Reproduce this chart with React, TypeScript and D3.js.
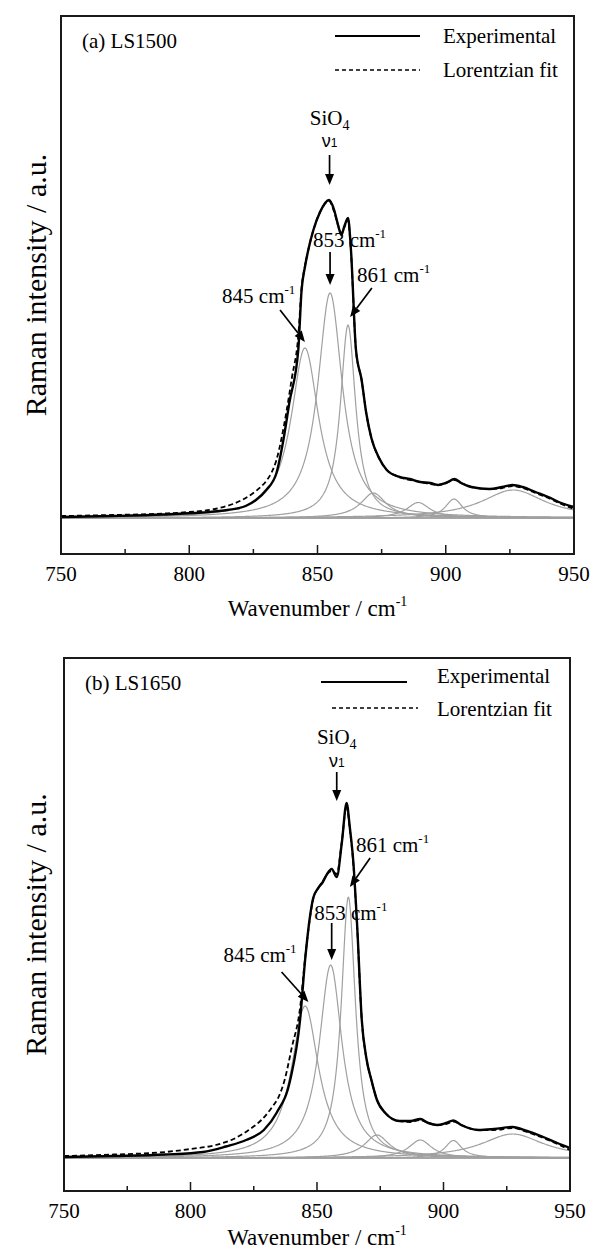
import React from "react";
import * as d3 from "d3";

// wavenumber axis
const xTicks = [750, 775, 800, 825, 850, 875, 900, 925, 950];
const xTickLabels = [750, 800, 850, 900, 950];

// (a) LS1500 experimental spectrum [cm-1, intensity a.u.]
const expA: [number, number][] = [
	[750, 1], [770, 2], [790, 3.5], [805, 5.5], [815, 8], [822, 12], [826, 18],
	[830, 28], [834, 45], [836.7, 78], [839, 115], [842.5, 168], [843.8, 228],
	[845.1, 251], [846.4, 268], [848.4, 288], [851, 306], [854.5, 318], [856.5, 308],
	[858, 293], [859.3, 283], [860.5, 292], [861.9, 300], [863, 270], [865, 168],
	[867.2, 138], [869, 105], [871, 80], [874, 60], [877, 48], [882, 41], [886, 39],
	[890, 36], [894, 35], [897, 33], [900, 35], [903.5, 39], [906, 35], [910, 31],
	[917, 29], [922, 31], [926, 33], [930, 31], [935, 26], [940, 21], [945, 15], [950, 11],
];
// (a) Lorentzian fit (sum)
const fitA: [number, number][] = [
	[750, 2], [770, 3], [790, 4.5], [800, 6], [810, 9], [817, 14], [822, 20],
	[826, 27], [830, 37], [832, 45], [834, 58], [836, 80], [838, 108], [840, 140],
	[842.5, 182], [843.8, 230], [845.1, 252], [846.4, 268], [848.4, 288], [851, 306],
	[854.5, 317], [856.5, 306], [858, 293], [859.3, 285], [860.5, 291], [861.9, 298],
	[863, 268], [865, 168], [867.2, 138], [869, 105], [871, 80], [874, 60], [877, 48],
	[882, 41], [886, 38], [890, 36], [894, 34], [897, 33], [900, 35], [903.5, 38],
	[906, 35], [910, 31], [917, 29], [922, 30], [926, 32], [930, 30], [935, 25],
	[940, 20], [945, 14], [950, 9],
];
// (a) Lorentzian components
const centersA = [845.1, 854.9, 861.9, 871.8, 889.3, 903.2, 926.3];
const heightsA = [170, 225, 193, 25, 15.5, 19, 28];
const hwhmA = [6.5, 5.8, 3.6, 6, 5.5, 4, 15];

// (b) LS1650 experimental spectrum
const expB: [number, number][] = [
	[750, 1], [770, 2], [790, 3.5], [805, 6], [814, 11.5], [822, 18], [829, 28],
	[834, 45], [839.4, 78], [843.3, 138], [845.3, 198], [847.2, 241], [848.5, 260],
	[850.5, 270], [852.3, 276], [854, 284], [855.8, 289], [857.8, 281], [859.8, 315],
	[861.7, 355], [863, 330], [864.3, 298], [865.9, 231], [867.7, 138], [869.5, 100],
	[871.5, 78], [873.7, 58], [877, 45], [882.6, 37], [887, 37], [890.8, 39],
	[894, 35], [897.5, 33], [901, 35], [903.9, 37.5], [907, 33], [913.9, 28],
	[920, 29], [927.3, 31], [933, 27], [939, 21.5], [945, 15], [950, 10],
];
// (b) Lorentzian fit (sum)
const fitB: [number, number][] = [
	[750, 2], [770, 3.5], [790, 6], [800, 9], [810, 13], [817, 19], [823, 28],
	[828, 38], [832, 50], [835, 62], [837.2, 78], [840, 110], [843.3, 150],
	[845.3, 200], [847.2, 240], [848.5, 259], [850.5, 270], [852.3, 277], [854, 284],
	[855.8, 287], [857.8, 284], [859.8, 316], [861.7, 352], [863, 328], [864.3, 296],
	[865.9, 229], [867.7, 138], [869.5, 100], [871.5, 78], [873.7, 58], [877, 45],
	[882.6, 37], [887, 36], [890.8, 38], [894, 35], [897.5, 33], [901, 34],
	[903.9, 36.5], [907, 33], [913.9, 28], [920, 28], [927.3, 30], [933, 26],
	[939, 20.5], [945, 14], [950, 8],
];
// (b) Lorentzian components
const centersB = [845.3, 855.4, 862.4, 873.7, 890.8, 903.9, 927.3];
const heightsB = [152, 193, 261, 23, 18, 17.5, 24];
const hwhmB = [6.5, 5.5, 3.4, 6, 5.5, 4, 15];

const SERIF = '"Liberation Serif", "Times New Roman", "DejaVu Serif", serif';
const SANS = '"Liberation Sans", Arial, sans-serif';

const lorentz = (x: number, c: number, h: number, g: number) =>
	h / (1 + ((x - c) / g) ** 2);

function Arrow({ x1, y1, x2, y2 }: { x1: number; y1: number; x2: number; y2: number }) {
	const a = Math.atan2(y2 - y1, x2 - x1);
	const L = 11, W = 4.5;
	const bx = x2 - L * Math.cos(a), by = y2 - L * Math.sin(a);
	const px = -Math.sin(a) * W, py = Math.cos(a) * W;
	return (
		<g>
			<line x1={x1} y1={y1} x2={bx} y2={by} stroke="#000" strokeWidth={1.7} />
			<polygon points={`${x2},${y2} ${bx + px},${by + py} ${bx - px},${by - py}`} fill="#000" />
		</g>
	);
}

function Cm({ x, y, value }: { x: number; y: number; value: string }) {
	return (
		<text x={x} y={y} style={{ fontFamily: SERIF, fontSize: 21 }} fill="#000">
			{value} cm<tspan style={{ fontSize: 13 }} dy={-9}>-1</tspan>
		</text>
	);
}

function Panel(props: any) {
	const { tag, left, right, top, bottom, base, exp, fit, centers, heights, widths, leg, ann, titleY } = props;
	const x = d3.scaleLinear().domain([750, 950]).range([left, right]);
	const y = d3.scaleLinear().domain([0, 100]).range([base, base - 100]);
	const grid = d3.range(750, 950.001, 0.25);
	const line = d3.line<[number, number]>().x((d) => x(d[0])).y((d) => y(d[1]));
	const comps = centers.map((c: number, i: number) =>
		grid.map((g) => [g, lorentz(g, c, heights[i], widths[i])] as [number, number])
	);
	const smooth = d3
		.line<[number, number]>()
		.x((d) => x(d[0]))
		.y((d) => y(d[1]))
		.curve(d3.curveMonotoneX);
	const cx = (left + right) / 2;
	const cy = (top + bottom) / 2;
	const txt = { fontFamily: SERIF, fontSize: 21 };
	const cid = "clip" + tag.replace(/\W/g, "");
	return (
		<g>
			<defs>
				<clipPath id={cid}>
					<rect x={left} y={top} width={right - left} height={bottom - top} />
				</clipPath>
			</defs>
			<g clipPath={`url(#${cid})`}>
				<line x1={left} x2={right} y1={y(0)} y2={y(0)} stroke="#a6a6a6" strokeWidth={2.2} />
				{comps.map((c: [number, number][], i: number) => (
					<path key={i} d={line(c) || ""} fill="none" stroke="#a0a0a0" strokeWidth={1.2} />
				))}
				<path d={smooth(exp) || ""} fill="none" stroke="#000" strokeWidth={2.4} />
				<path d={smooth(fit) || ""} fill="none" stroke="#000" strokeWidth={1.8} strokeDasharray="5,3" />
			</g>
			<rect x={left} y={top} width={right - left} height={bottom - top} fill="none" stroke="#1a1a1a" strokeWidth={2} />
			{xTicks.map((t) => (
				<line key={t} x1={x(t)} x2={x(t)} y1={bottom} y2={bottom - (t % 50 === 0 ? 9 : 5)} stroke="#1a1a1a" strokeWidth={1.5} />
			))}
			{xTickLabels.map((t) => (
				<text key={t} x={x(t)} y={bottom + 27} textAnchor="middle" style={txt} fill="#000">
					{t}
				</text>
			))}
			<text x={cx} y={titleY} textAnchor="middle" style={{ fontFamily: SERIF, fontSize: 23 }} fill="#000">
				Wavenumber / cm<tspan style={{ fontSize: 14 }} dy={-10}>-1</tspan>
			</text>
			<text transform={`translate(46,${cy}) rotate(-90)`} textAnchor="middle" style={{ fontFamily: SERIF, fontSize: 30 }} fill="#000">
				Raman intensity / a.u.
			</text>
			<text x={left + 21} y={top + 32} style={txt} fill="#000">
				{tag}
			</text>
			<line x1={leg.sx1} x2={leg.sx2} y1={leg.sy} y2={leg.sy} stroke="#000" strokeWidth={1.8} />
			<text x={leg.tx} y={leg.ty1} style={txt} fill="#000">Experimental</text>
			<line x1={leg.dx1} x2={leg.dx2} y1={leg.dy} y2={leg.dy} stroke="#000" strokeWidth={1.4} strokeDasharray="4,3" />
			<text x={leg.tx} y={leg.ty2} style={txt} fill="#000">Lorentzian fit</text>
			{/* SiO4 nu1 */}
			<text x={x(ann.si[0])} y={y(ann.si[1])} textAnchor="middle" style={txt} fill="#000">
				SiO<tspan style={{ fontSize: 14 }} dy={5}>4</tspan>
			</text>
			<text x={x(ann.si[0])} y={y(ann.si[2])} textAnchor="middle" style={{ fontFamily: SANS, fontSize: 18 }} fill="#000">
				ν<tspan style={{ fontSize: 12 }}>1</tspan>
			</text>
			<Arrow x1={x(ann.si[0])} y1={y(ann.si[3])} x2={x(ann.si[0])} y2={y(ann.si[4])} />
			{ann.peaks.map((p: any) => (
				<g key={p.v}>
					<Cm x={x(p.t[0])} y={y(p.t[1])} value={p.v} />
					<Arrow x1={x(p.a[0])} y1={y(p.a[1])} x2={x(p.a[2])} y2={y(p.a[3])} />
				</g>
			))}
		</g>
	);
}

export default function App() {
	return (
		<svg
			width={590}
			height={1252}
			style={{ position: "absolute", left: 0, top: 0, display: "block", background: "#fff", fontFamily: SERIF }}>
			<Panel
				tag="(a) LS1500"
				left={61}
				right={574}
				top={16}
				bottom={554}
				base={518}
				titleY={616}
				exp={expA}
				fit={fitA}
				centers={centersA}
				heights={heightsA}
				widths={hwhmA}
				leg={{ sx1: 335, sx2: 420, sy: 36, dx1: 335, dx2: 420, dy: 70, tx: 443, ty1: 43, ty2: 77 }}
				ann={{
					si: [854.7, 393, 371, 363, 333],
					peaks: [
						{ v: "845", t: [812.8, 215], a: [835.4, 208, 845.1, 176] },
						{ v: "853", t: [848.2, 271], a: [854.9, 266, 854.9, 233] },
						{ v: "861", t: [865.4, 236], a: [871.2, 230, 862.7, 201] },
					],
				}}
			/>
			<Panel
				tag="(b) LS1650"
				left={64}
				right={570}
				top={658}
				bottom={1191}
				base={1158}
				titleY={1245}
				exp={expB}
				fit={fitB}
				centers={centersB}
				heights={heightsB}
				widths={hwhmB}
				leg={{ sx1: 321, sx2: 407, sy: 682, dx1: 332, dx2: 418, dy: 708, tx: 437, ty1: 683, ty2: 716 }}
				ann={{
					si: [857.8, 414, 391, 386, 357],
					peaks: [
						{ v: "845", t: [813, 196], a: [836, 186, 846.6, 156] },
						{ v: "853", t: [848.9, 238], a: [855.8, 235, 855.8, 198] },
						{ v: "861", t: [865.4, 306], a: [871, 300, 863, 271] },
					],
				}}
			/>
		</svg>
	);
}
